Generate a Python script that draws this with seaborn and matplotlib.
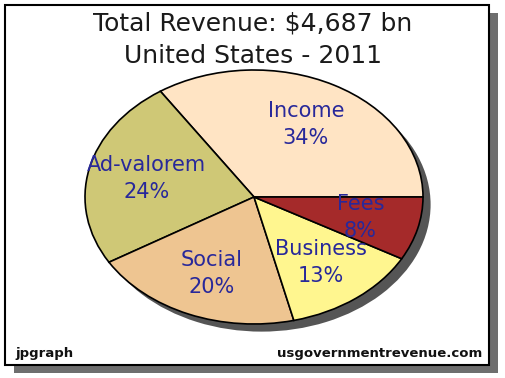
import matplotlib
matplotlib.use("Agg")
import matplotlib.pyplot as plt
import seaborn as sns
from matplotlib.patches import Rectangle

# dados
categorias = ["Income", "Ad-valorem", "Social", "Business", "Fees"]
percentuais = [34, 24, 20, 13, 8]
cores = ["#FFE4C4", "#CFC876", "#EEC591", "#FFF68F", "#A52A2A"]
titulo = "Total Revenue: $4,687 bn"
subtitulo = "United States - 2011"

sns.set_theme(style="white")
plt.rcParams['font.family'] = ['DejaVu Sans']
paleta = sns.color_palette(cores)

W, H = 506, 378
fig = plt.figure(figsize=(W / 100, H / 100), dpi=100, facecolor="white")

# moldura com sombra
fig.add_artist(Rectangle((14.5 / W, 1 - 372.5 / H), 484 / W, 360 / H,
                         transform=fig.transFigure, facecolor="#6e6e6e",
                         edgecolor="none", zorder=0))
fig.add_artist(Rectangle((5.5 / W, 1 - 364.5 / H), 484 / W, 360 / H,
                         transform=fig.transFigure, facecolor="white",
                         edgecolor="black", linewidth=1.5, zorder=1))

# pizza (elipse)
cx, cy, rx, ry = 254, 197, 169, 127
ax = fig.add_axes([(cx - 1.2 * rx) / W, (H - cy - 1.2 * ry) / H,
                   2.4 * rx / W, 2.4 * ry / H])
ax.set_zorder(2)

# sombra
ax.pie([sum(percentuais)], colors=["#555555"], center=(0.045, -0.06),
       wedgeprops=dict(linewidth=0))

rotulos = [f"{c}\n{p}%" for c, p in zip(categorias, percentuais)]
wedges, textos = ax.pie(percentuais, colors=paleta, labels=rotulos,
                        startangle=0, counterclock=True, labeldistance=0.65,
                        wedgeprops=dict(edgecolor="black", linewidth=1.2),
                        textprops=dict(color="#28289a", fontsize=15,
                                       linespacing=1.45))
for t in textos:
    t.set_ha("center")
    t.set_va("center")

ax.set_aspect("auto")
ax.set_xlim(-1.2, 1.2)
ax.set_ylim(-1.2, 1.2)
ax.axis("off")

# títulos
fig.text(0.5, 1 - 24 / H, titulo, ha="center", va="center",
         fontsize=18, color="#1a1a1a", zorder=3)
fig.text(0.5, 1 - 56 / H, subtitulo, ha="center", va="center",
         fontsize=18, color="#1a1a1a", zorder=3)

# rodapé
fig.text(15 / W, 1 - 353 / H, "jpgraph", ha="left", va="center",
         fontsize=9.5, fontweight="bold", color="#111111", zorder=3)
fig.text(482 / W, 1 - 353 / H, "usgovernmentrevenue.com", ha="right",
         va="center", fontsize=9.5, fontweight="bold", color="#111111",
         zorder=3)

fig.savefig("out.png", dpi=100, facecolor="white")
